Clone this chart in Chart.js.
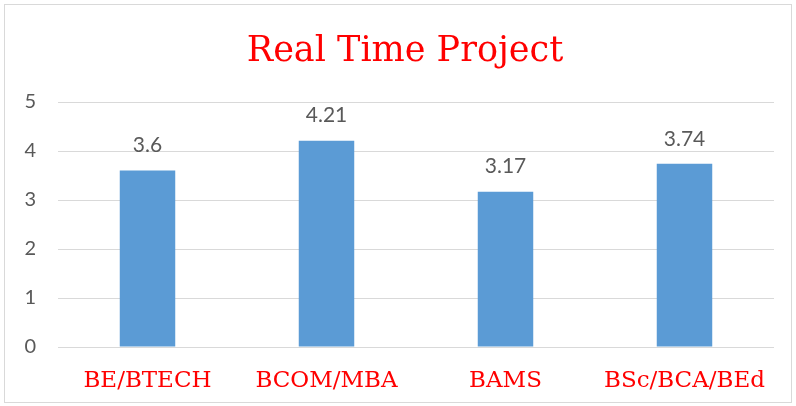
<!DOCTYPE html>
<html>
<head>
<meta charset="utf-8">
<script src="https://cdn.jsdelivr.net/npm/chart.js@4/dist/chart.umd.min.js"></script>
<style>
html,body{margin:0;padding:0;background:#fff;}
#wrap{position:relative;width:796px;height:406px;}
#frame{position:absolute;left:4px;top:4px;width:786px;height:397px;border:1px solid #d9d9d9;pointer-events:none;}
canvas{position:absolute;left:0;top:0;}
</style>
</head>
<body>
<div id="wrap">
<canvas id="c" width="796" height="406"></canvas>
<div id="frame"></div>
</div>
<script>
const categories = ["BE/BTECH", "BCOM/MBA", "BAMS", "BSc/BCA/BEd"];
const values = [3.6, 4.21, 3.17, 3.74];
const valueLabels = ["3.6", "4.21", "3.17", "3.74"];
const yTicks = [0, 1, 2, 3, 4, 5];
const titleText = "Real Time Project";

const valueLabelPlugin = {
  id: 'valueLabels',
  afterDatasetsDraw(chart) {
    const ctx = chart.ctx;
    const meta = chart.getDatasetMeta(0);
    ctx.save();
    ctx.font = '21px Lato, "Liberation Sans", sans-serif';
    ctx.fillStyle = '#595959';
    ctx.textAlign = 'center';
    ctx.textBaseline = 'middle';
    meta.data.forEach((bar, i) => {
      ctx.fillText(valueLabels[i], bar.x, bar.y - 25);
    });
    ctx.restore();
  }
};

const titlePlugin = {
  id: 'offsetTitle',
  afterDraw(chart) {
    const ctx = chart.ctx;
    ctx.save();
    ctx.font = '35px "DejaVu Serif", "Liberation Serif", serif';
    ctx.fillStyle = '#ff0000';
    ctx.textAlign = 'center';
    ctx.textBaseline = 'alphabetic';
    ctx.fillText(titleText, 405, 61);
    ctx.restore();
  }
};

new Chart(document.getElementById('c'), {
  type: 'bar',
  data: {
    labels: categories,
    datasets: [{
      data: values,
      backgroundColor: '#5b9bd5',
      barPercentage: 0.31,
      categoryPercentage: 1.0
    }]
  },
  options: {
    responsive: false,
    animation: false,
    devicePixelRatio: 1,
    layout: { padding: { left: 0, right: 22, top: 102, bottom: 0 } },
    plugins: {
      legend: { display: false },
      tooltip: { enabled: false },
      title: { display: false }
    },
    scales: {
      x: {
        grid: { display: false },
        border: { display: false },
        ticks: {
          color: '#ff0000',
          font: { family: '"DejaVu Serif", "Liberation Serif", serif', size: 23 },
          padding: 12,
          maxRotation: 0
        },
        afterFit(scale) { scale.height = 59; }
      },
      y: {
        min: 0,
        max: 5,
        afterBuildTicks(scale) { scale.ticks = yTicks.map(v => ({ value: v })); },
        grid: { color: '#d9d9d9', drawTicks: false, lineWidth: 1 },
        border: { display: false },
        ticks: {
          color: '#595959',
          font: { family: 'Lato, "Liberation Sans", sans-serif', size: 20 },
          padding: 22
        },
        afterFit(scale) { scale.width = 58; }
      }
    }
  },
  plugins: [valueLabelPlugin, titlePlugin]
});
</script>
</body>
</html>
